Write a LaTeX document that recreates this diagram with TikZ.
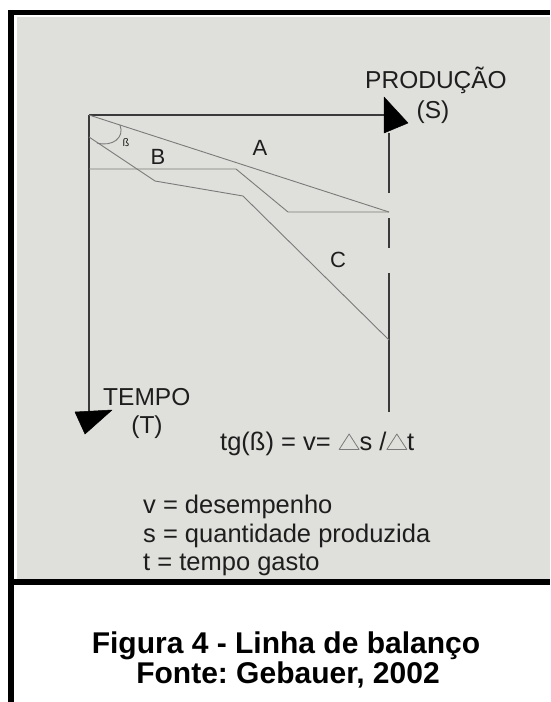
\documentclass[tikz,border=0pt]{standalone}
\usepackage{fontspec}
\setmainfont{Liberation Sans}
\definecolor{panel}{HTML}{DFDFDB}
\definecolor{plotline}{HTML}{7A7A7A}
\definecolor{axisline}{HTML}{3A3A3A}
\definecolor{ink}{HTML}{1E1E1E}
\newcommand{\trig}{\tikz[x=1pt,y=1pt,baseline=0pt]\draw[plotline,line width=0.8pt,line join=round] (0,0.5) -- (20,0.5) -- (10,16) -- cycle;}
\frenchspacing
\begin{document}
\begin{tikzpicture}[x=1pt,y=-1pt,
  frameline/.style={line width=6pt,black},
  plot/.style={plotline,line width=0.9pt,line join=round},
  axis/.style={axisline,line width=1.3pt},
  head/.style={fill=black,draw=black,line width=0.5pt,line join=round},
  lbl/.style={inner sep=0pt,text=ink,font=\fontsize{24.5}{28}\selectfont},
  region/.style={inner sep=0pt,text=ink,font=\fontsize{22}{26}\selectfont},
  legend/.style={inner sep=0pt,text=ink,anchor=base west,font=\fontsize{25.5}{28}\selectfont},
  caption/.style={inner sep=0pt,text=black,anchor=base,font=\bfseries\fontsize{30}{32}\selectfont}]
\useasboundingbox (0,0) rectangle (550,702);
\fill[white] (0,0) rectangle (550,702);
% frame
\fill[panel] (17,17) rectangle (550,579);
\draw[frameline] (11,10) -- (11,702);
\draw[line width=5pt] (8,12.5) -- (550,12.5);
\draw[frameline] (14,582) -- (550,582);
% coordinates
\coordinate (O) at (89,115);
\coordinate (Hend) at (384,115);
\coordinate (Vend) at (89,412);
\coordinate (A1) at (389,212);
\coordinate (L1) at (89,137);
\coordinate (L2) at (155,181);
\coordinate (L3) at (243,196);
\coordinate (L4) at (389,340);
\coordinate (M1) at (89,169);
\coordinate (M2) at (236,169);
\coordinate (M3) at (288,212);
\coordinate (Dtop) at (389,133);
\coordinate (Dbot) at (389,412);
% axes
\draw[axis] (O) -- (Hend);
\draw[axis] (O) -- (Vend);
\draw[head] (384,97) -- (408,123) -- (384,133) -- cycle;
\draw[head] (75,412) -- (112,410) -- (85,434) -- cycle;
\draw[axis,dash pattern=on 60pt off 25pt on 30pt off 25pt on 200pt] (Dtop) -- (Dbot);
% plot lines
\draw[plot] (O) -- (A1);
\draw[plot] (L1) -- (L2) -- (L3) -- (L4);
\draw[plot] (M1) -- (M2) -- (M3) -- (A1);
\draw[plot] (120,125) .. controls (125,138) and (112,147) .. (97,143);
% labels
\node[inner sep=0pt,text=ink,font=\fontsize{11}{12}\selectfont] (beta) at (126,143) {ß};
\node[region,anchor=base] (la) at (260,155) {A};
\node[region,anchor=base] (lb) at (158,164) {B};
\node[region,anchor=base] (lc) at (338,267) {C};
\node[lbl,anchor=base east] (prod) at (507,88) {PRODUÇÃO};
\node[lbl,anchor=base] (s) at (433,118) {(S)};
\node[lbl,anchor=base west] (tempo) at (103,405) {TEMPO};
\node[lbl,anchor=base] (t) at (147,433) {(T)};
\node[legend] (formula) at (220,450) {tg(ß) = v=\hspace{8pt}\trig s /\trig t};
\node[legend] (lv) at (143,513) {v = desempenho};
\node[legend] (ls) at (143,542) {s = quantidade produzida};
\node[legend] (lt) at (143,570) {t = tempo gasto};
\node[caption] (cap1) at (286,653) {Figura 4 - Linha de balanço};
\node[caption] (cap2) at (288,683) {Fonte: Gebauer, 2002};
\end{tikzpicture}
\end{document}
